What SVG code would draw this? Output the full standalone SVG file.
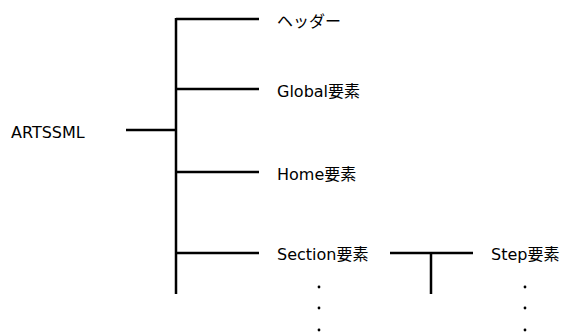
<svg xmlns="http://www.w3.org/2000/svg" width="562" height="336" viewBox="0 0 562 336">
<style>
text{font-family:"DejaVu Sans","Noto Sans CJK JP",sans-serif;font-size:16px;fill:#000}
.ln{stroke:#000;stroke-width:2.5;fill:none}
.dot{fill:#000}
</style>
<rect width="562" height="336" fill="#fff"/>
<g id="connectors">
<path class="ln" d="M126 130H176M176 18V294M176 19H259M176 89H259M176 172H259M176 253H259"/>
<path class="ln" d="M390 253H473M431 253V294"/>
</g>
<g id="n-artssml"><text x="11" y="137.5">ARTSSML</text></g>
<g id="n-header"><text x="277" y="26.5">ヘッダー</text></g>
<g id="n-global"><text x="277" y="96.5">Global要素</text></g>
<g id="n-home"><text x="277" y="179.5">Home要素</text></g>
<g id="n-section"><text x="277" y="260">Section要素</text></g>
<g id="n-step"><text x="491" y="260">Step要素</text></g>
<g id="dots1"><circle class="dot" cx="319" cy="287" r="1.4"/><circle class="dot" cx="319" cy="308" r="1.4"/><circle class="dot" cx="319" cy="330" r="1.4"/></g>
<g id="dots2"><circle class="dot" cx="525" cy="287" r="1.4"/><circle class="dot" cx="525" cy="308" r="1.4"/><circle class="dot" cx="525" cy="330" r="1.4"/></g>
</svg>
